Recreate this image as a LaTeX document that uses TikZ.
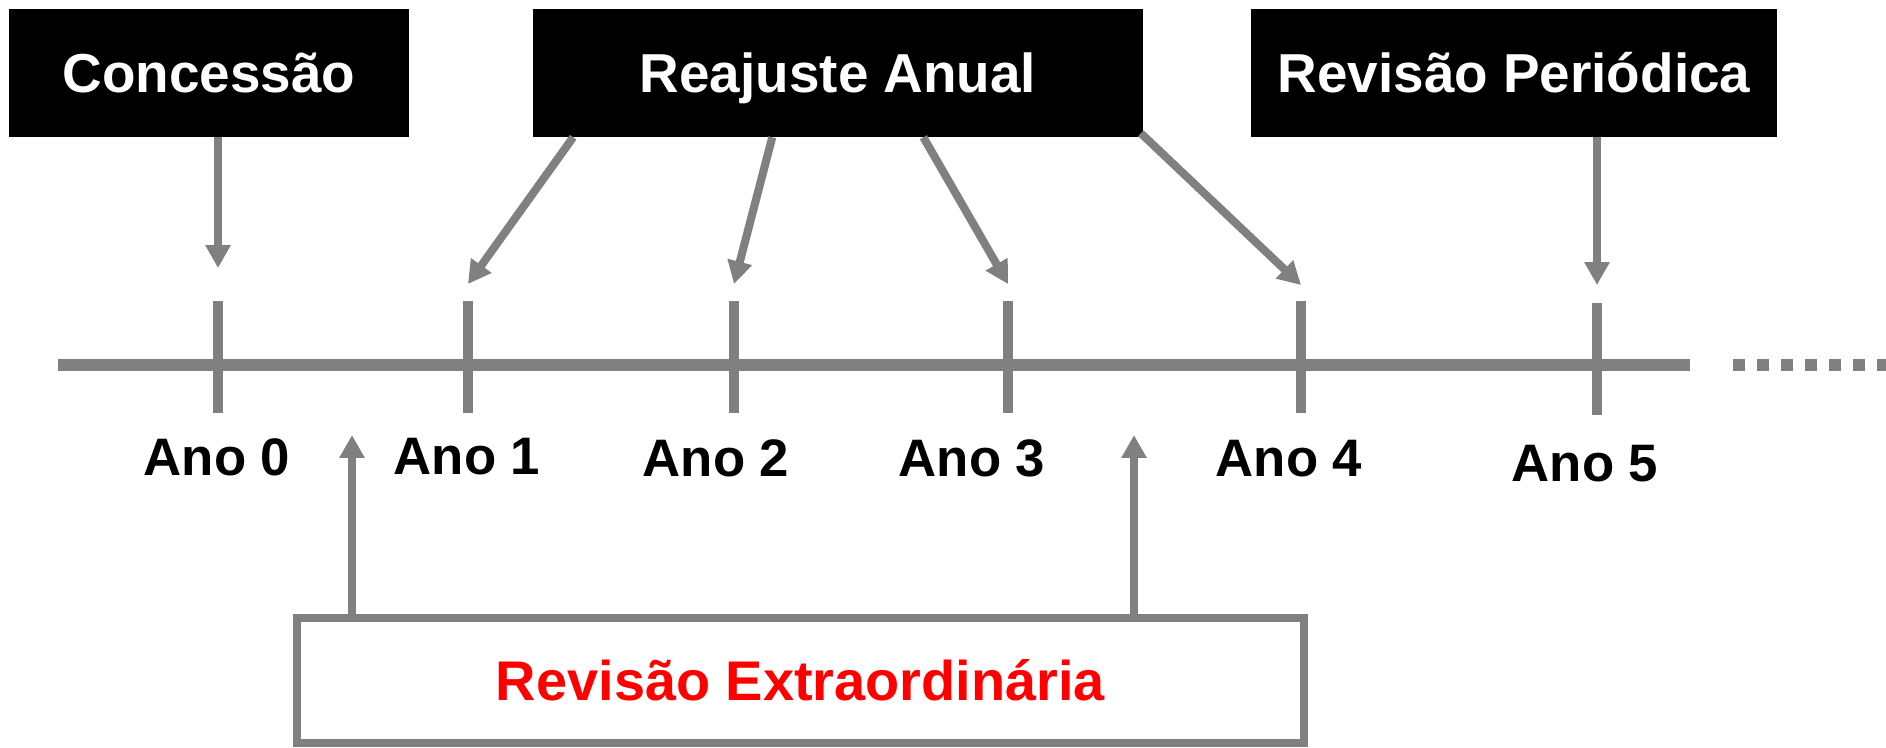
\documentclass[tikz,border=0pt]{standalone}
\usepackage{fontspec}
\setmainfont{Liberation Sans}
\usetikzlibrary{arrows.meta}
\definecolor{axisgray}{RGB}{128,128,128}
\tikzset{
  blackbox/.style={fill=black,text=white,inner sep=0pt,minimum height=1.27cm,
    font=\bfseries\fontsize{15.6pt}{18pt}\selectfont,text height=11.2pt,text depth=0pt},
  redbox/.style={draw=axisgray,line width=2.3pt,text=red,inner sep=0pt,
    font=\bfseries\fontsize{15.9pt}{18pt}\selectfont,text height=11.4pt,text depth=0pt},
  yearlabel/.style={font=\bfseries\fontsize{15pt}{17pt}\selectfont,
    text height=10.7pt,text depth=0pt,inner sep=0pt},
  pointer/.style={draw=axisgray,line width=2.3pt,-{Triangle[length=6.5pt,width=6.8pt]}},
  tickmark/.style={draw=axisgray,line width=3.1pt},
  axisline/.style={draw=axisgray,line width=3.4pt},
}
\begin{document}
\begin{tikzpicture}[x=0.01cm,y=-0.01cm]
   \useasboundingbox (0,0) rectangle (1886,747);

   % boxes on top
   \node[blackbox,minimum width=4cm] (conc) at (209,73) {Concessão};
   \node[blackbox,minimum width=6.1cm] (reaj) at (838,73) {Reajuste Anual};
   \node[blackbox,minimum width=5.26cm] (revp) at (1514,73) {Revisão Periódica};

   % time axis
   \draw[axisline] (58,365) -- (1690,365);
   \draw[axisline,dash pattern=on 0.12cm off 0.12cm] (1733,365) -- (1886,365);

   % years
   \foreach \i/\x/\ty/\tipy/\lx/\ly in {0/218/301/268/217/457,1/468/301/284/467/456,
       2/734/301/284/716/458,3/1008/301/284/972/458,4/1301/301/285/1289/458,
       5/1597/303/285/1585/463} {
     \draw[tickmark] (\x,\ty) -- (\x,\ty+112);
     \coordinate (tip\i) at (\x,\tipy);
     \node[yearlabel] (ano\i) at (\lx,\ly) {Ano \i};
   }

   \draw[pointer] (conc.south -| tip0) -- (tip0);
   \draw[pointer] ([xshift=0.41cm]reaj.south west) -- (tip1);
   \draw[pointer] ([xshift=2.4cm]reaj.south west) -- (tip2);
   \draw[pointer] ([xshift=3.91cm]reaj.south west) -- (tip3);
   \draw[pointer] ([xshift=-0.03cm,yshift=0.04cm]reaj.south east) -- (tip4);
   \draw[pointer] (revp.south -| tip5) -- (tip5);

   % extraordinary revision
   \coordinate (up1) at (352,435);
   \coordinate (up2) at (1134,435);
   \node[redbox,minimum width=10.07cm,minimum height=1.25cm] (extra) at (800.5,680.5)
     {Revisão Extraordinária};
   \draw[pointer] (extra.north -| up1) -- (up1);
   \draw[pointer] (extra.north -| up2) -- (up2);
  \end{tikzpicture}
\end{document}
